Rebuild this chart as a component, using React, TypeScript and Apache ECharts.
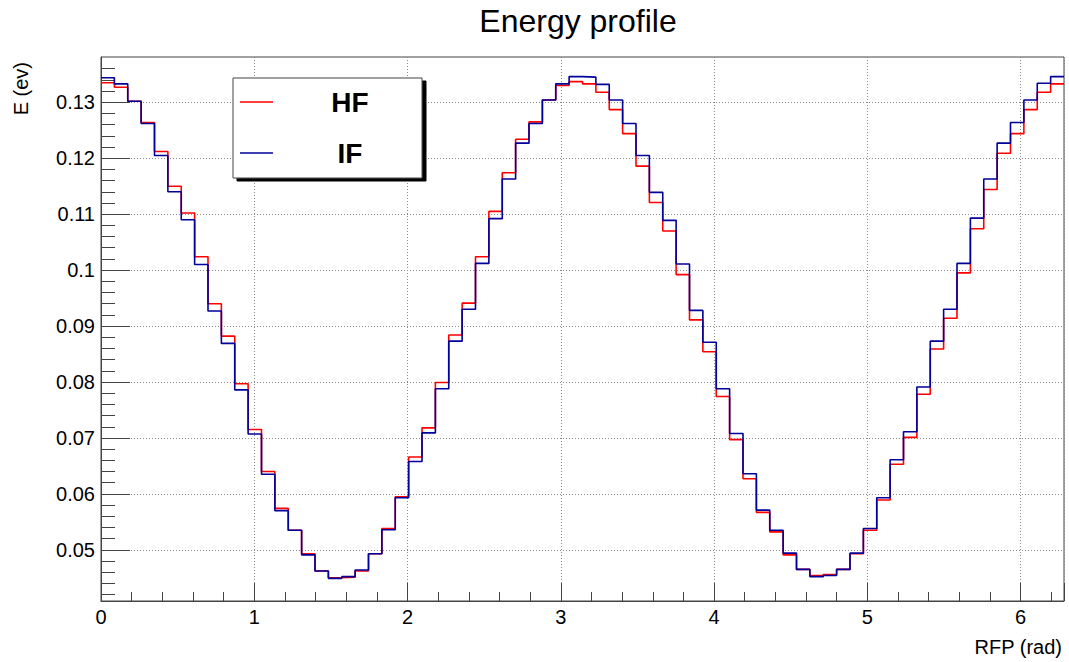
import { useEffect, useRef } from "react";
import * as echarts from "echarts";

const FONT = "'Liberation Sans', Arial, Helvetica, sans-serif";

// Bin contents (72 bins over [0, 2π])
const hfValues = [
  0.1335, 0.1327, 0.1302, 0.1264, 0.1212, 0.115, 0.1102, 0.1024, 0.094, 0.0882,
  0.0797, 0.0715, 0.064, 0.0574, 0.0535, 0.0493, 0.0462, 0.045, 0.0451, 0.0462,
  0.0493, 0.0538, 0.0595, 0.0666, 0.0718, 0.0799, 0.0884, 0.0941, 0.1024, 0.1105,
  0.1174, 0.1234, 0.1265, 0.1304, 0.133, 0.1337, 0.1333, 0.1318, 0.1287, 0.1244,
  0.1186, 0.1121, 0.107, 0.0992, 0.0911, 0.0854, 0.0774, 0.0697, 0.0627, 0.0567,
  0.0532, 0.0491, 0.0465, 0.0454, 0.0456, 0.0465, 0.0493, 0.0535, 0.0589, 0.0653,
  0.0701, 0.0778, 0.0859, 0.0914, 0.0995, 0.1074, 0.1144, 0.1209, 0.1244, 0.1287,
  0.1318, 0.1333,
];

const ifValues = [
  0.1344, 0.1333, 0.1302, 0.1262, 0.1205, 0.114, 0.109, 0.101, 0.0927, 0.0869,
  0.0786, 0.0707, 0.0635, 0.057, 0.0535, 0.0491, 0.0462, 0.0449, 0.0452, 0.0464,
  0.0493, 0.0536, 0.0593, 0.0658, 0.0709, 0.0788, 0.0873, 0.093, 0.1012, 0.1092,
  0.1163, 0.1227, 0.1262, 0.1304, 0.1333, 0.1346, 0.1345, 0.1332, 0.1304, 0.1262,
  0.1205, 0.1139, 0.1089, 0.1011, 0.0928, 0.0871, 0.0788, 0.0708, 0.0636, 0.0571,
  0.0535, 0.0494, 0.0465, 0.0452, 0.0454, 0.0465, 0.0494, 0.0538, 0.0593, 0.0661,
  0.0711, 0.0791, 0.0873, 0.093, 0.1012, 0.1093, 0.1163, 0.1227, 0.1264, 0.1304,
  0.1334, 0.1346,
];

const seriesNames = ["HF", "IF"];
const seriesColors = ["#ff0000", "#00009a"];
const xTickLabels = [0, 1, 2, 3, 4, 5, 6];
const yMajorTicks = [0.05, 0.06, 0.07, 0.08, 0.09, 0.1, 0.11, 0.12, 0.13];
const yMinorTicks = [
  0.042, 0.044, 0.046, 0.048, 0.052, 0.054, 0.056, 0.058, 0.062, 0.064, 0.066, 0.068,
  0.072, 0.074, 0.076, 0.078, 0.082, 0.084, 0.086, 0.088, 0.092, 0.094, 0.096, 0.098,
  0.102, 0.104, 0.106, 0.108, 0.112, 0.114, 0.116, 0.118, 0.122, 0.124, 0.126, 0.128,
  0.132, 0.134, 0.136,
];

const X_MIN = 0;
const X_MAX = 2 * Math.PI;
const Y_MIN = 0.04085;
const Y_MAX = 0.1381;

function toSteps(values: number[]): number[][] {
  const w = (X_MAX - X_MIN) / values.length;
  const pts = values.map((v, i) => [X_MIN + i * w, v]);
  pts.push([X_MAX, values[values.length - 1]]);
  return pts;
}

const AXIS_COLOR = "#444";
const GRID_LINE = { color: "#8a8a8a", type: [1, 2] as any, width: 1 };

export default function App() {
  const ref = useRef<HTMLDivElement>(null);

  useEffect(() => {
    if (!ref.current) return;
    const chart = echarts.init(ref.current, undefined, { renderer: "svg" });
    const option: any = {
      animation: false,
      backgroundColor: "#ffffff",
      textStyle: { fontFamily: FONT },
      title: {
        text: "Energy profile",
        left: 573,
        top: 0,
        textAlign: "center",
        textStyle: { fontSize: 32, fontWeight: "normal", color: "#000", fontFamily: FONT },
      },
      grid: {
        left: 101,
        right: 5,
        top: 57,
        bottom: 61,
        show: true,
        borderColor: AXIS_COLOR,
        borderWidth: 1,
        backgroundColor: "transparent",
      },
      legend: {
        orient: "vertical",
        left: 233,
        top: 78,
        padding: [10, 0, 11, 7],
        itemGap: 23,
        itemWidth: 33,
        itemHeight: 1.6,
        icon: "rect",
        backgroundColor: "#fff",
        borderColor: AXIS_COLOR,
        borderWidth: 1,
        shadowColor: "#000",
        shadowBlur: 0,
        shadowOffsetX: 4,
        shadowOffsetY: 3,
        data: seriesNames,
        formatter: "{n|{name}}",
        textStyle: {
          rich: {
            n: {
              width: 144,
              align: "center",
              fontSize: 28,
              fontWeight: "bold",
              lineHeight: 30,
              color: "#000",
              fontFamily: FONT,
            },
          },
        },
      },
      xAxis: {
        type: "value",
        min: X_MIN,
        max: X_MAX,
        interval: 1,
        name: "RFP (rad)",
        nameLocation: "end",
        nameGap: -2,
        nameMoveOverlap: false,
        nameTextStyle: {
          fontSize: 20,
          color: "#000",
          align: "right",
          verticalAlign: "top",
          padding: [36, 0, 0, 0],
          fontFamily: FONT,
        },
        axisLine: { show: true, lineStyle: { color: AXIS_COLOR, width: 1 } },
        axisTick: { show: true, inside: true, length: 18, lineStyle: { color: AXIS_COLOR } },
        minorTick: { show: true, splitNumber: 5, length: 9, lineStyle: { color: AXIS_COLOR } },
        axisLabel: {
          fontSize: 20,
          color: "#000",
          margin: 6,
          showMaxLabel: false,
          fontFamily: FONT,
          formatter: (v: number) => (xTickLabels.includes(v) ? String(v) : ""),
        },
        splitLine: { show: true, lineStyle: GRID_LINE },
        minorSplitLine: { show: false },
      },
      yAxis: [
        {
          type: "value",
          position: "left",
          min: Y_MIN,
          max: Y_MAX,
          name: "E (ev)",
          nameLocation: "end",
          nameGap: -5,
          nameRotate: 90,
          nameMoveOverlap: false,
          nameTextStyle: {
            fontSize: 20,
            color: "#000",
            align: "right",
            verticalAlign: "bottom",
            padding: [0, 0, 70, 0],
            fontFamily: FONT,
          },
          axisLine: { show: true, lineStyle: { color: AXIS_COLOR, width: 1 } },
          axisTick: {
            show: true,
            inside: true,
            length: 29,
            customValues: yMajorTicks,
            lineStyle: { color: AXIS_COLOR },
          },
          axisLabel: {
            customValues: yMajorTicks,
            fontSize: 20,
            color: "#000",
            margin: 6,
            fontFamily: FONT,
            formatter: (v: number) => String(parseFloat(Number(v).toFixed(3))),
          },
          splitLine: { show: true, lineStyle: GRID_LINE },
        },
        {
          type: "value",
          position: "left",
          offset: 0,
          min: Y_MIN,
          max: Y_MAX,
          axisLine: { show: false },
          axisLabel: { show: false },
          axisTick: {
            show: true,
            inside: true,
            length: 14,
            customValues: yMinorTicks,
            lineStyle: { color: AXIS_COLOR },
          },
          splitLine: { show: false },
        },
      ],
      series: [
        {
          name: seriesNames[0],
          type: "line",
          step: "end",
          yAxisIndex: 0,
          data: toSteps(hfValues),
          symbol: "none",
          lineStyle: { color: seriesColors[0], width: 1.6 },
          itemStyle: { color: seriesColors[0] },
          z: 2,
        },
        {
          name: seriesNames[1],
          type: "line",
          step: "end",
          yAxisIndex: 0,
          data: toSteps(ifValues),
          symbol: "none",
          lineStyle: { color: seriesColors[1], width: 1.6 },
          itemStyle: { color: seriesColors[1] },
          z: 3,
        },
      ],
    };
    chart.setOption(option);
    return () => chart.dispose();
  }, []);

  return (
    <div
      ref={ref}
      style={{ position: "fixed", left: 0, top: 0, width: 1069, height: 662, background: "#fff" }}
    />
  );
}
